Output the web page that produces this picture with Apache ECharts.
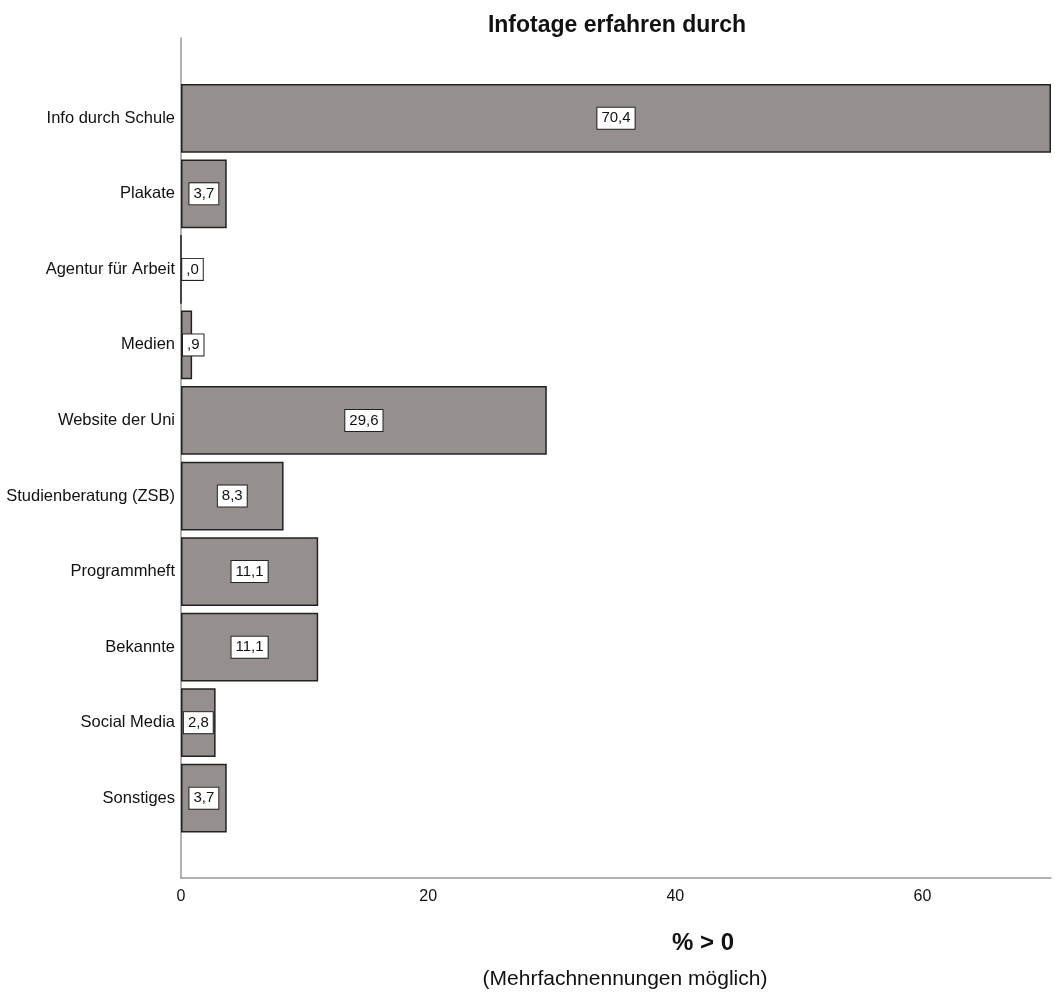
<!DOCTYPE html>
<html>
<head>
<meta charset="utf-8">
<script src="https://cdn.jsdelivr.net/npm/echarts@6/dist/echarts.min.js"></script>
<style>
html,body{margin:0;padding:0;background:#fff;}
#chart{width:1055px;height:992px;}
</style>
</head>
<body>
<div id="chart"></div>
<script>
const categories = ["Info durch Schule","Plakate","Agentur für Arbeit","Medien","Website der Uni","Studienberatung (ZSB)","Programmheft","Bekannte","Social Media","Sonstiges"];
const values = [70.4, 3.7, 0.0, 0.9, 29.6, 8.3, 11.1, 11.1, 2.8, 3.7];
const xTicks = [0, 20, 40, 60];
const xMax = 70.4;

function fmt(v){
  let s = v.toFixed(1).replace('.', ',');
  if (s.startsWith('0,')) s = s.slice(1);
  return s;
}

const FONT = 'Liberation Sans, Arial, sans-serif';
const chart = echarts.init(document.getElementById('chart'));

const labelBase = {
  show: true,
  formatter: p => fmt(p.value),
  backgroundColor: '#fff',
  borderColor: '#222',
  borderWidth: 1,
  padding: [4, 4, 2, 4],
  color: '#111',
  fontFamily: FONT,
  fontSize: 15
};

const data = values.map(v => {
  const item = { value: v };
  if (v < 2) {
    item.label = { position: 'insideLeft', distance: 2 };
  }
  return item;
});

chart.setOption({
  animation: false,
  title: [
    { text: 'Infotage erfahren durch', left: 612, top: 9, textAlign: 'center',
      textStyle: { fontFamily: FONT, fontSize: 23, fontWeight: 'bold', color: '#111' } },
    { text: '% > 0', left: 698, top: 926, textAlign: 'center',
      textStyle: { fontFamily: FONT, fontSize: 24, fontWeight: 'bold', color: '#111' } },
    { text: '(Mehrfachnennungen möglich)', left: 620, top: 964, textAlign: 'center',
      textStyle: { fontFamily: FONT, fontSize: 21, fontWeight: 'normal', color: '#111' } }
  ],
  grid: [
    { left: 181, right: 4, top: 80.5, height: 755.5 },
    { left: 181, right: 4, top: 38, bottom: 114 }
  ],
  xAxis: [
    { type: 'value', gridIndex: 0, min: 0, max: xMax, show: false },
    { type: 'value', gridIndex: 1, min: 0, max: xMax, interval: 20,
      axisLine: { show: true, lineStyle: { color: '#999', width: 1.5 } },
      axisTick: { show: false },
      splitLine: { show: false },
      axisLabel: { show: true, margin: 11, color: '#111', fontFamily: FONT, fontSize: 16,
        customValues: xTicks, formatter: v => String(v) }
    }
  ],
  yAxis: [
    { type: 'category', gridIndex: 0, data: categories, inverse: true,
      axisLine: { show: false }, axisTick: { show: false },
      axisLabel: { color: '#111', fontFamily: FONT, fontSize: 16.5, margin: 6 } },
    { type: 'value', gridIndex: 1, min: 0, max: 1,
      axisLine: { show: true, lineStyle: { color: '#999', width: 1.5 } },
      axisTick: { show: false }, axisLabel: { show: false }, splitLine: { show: false } }
  ],
  series: [
    {
      type: 'bar',
      xAxisIndex: 0,
      yAxisIndex: 0,
      data: data,
      barCategoryGap: '9%',
      itemStyle: { color: '#958f8d', borderColor: '#222', borderWidth: 1.5 },
      label: Object.assign({ position: 'inside' }, labelBase)
    }
  ]
});
</script>
</body>
</html>
